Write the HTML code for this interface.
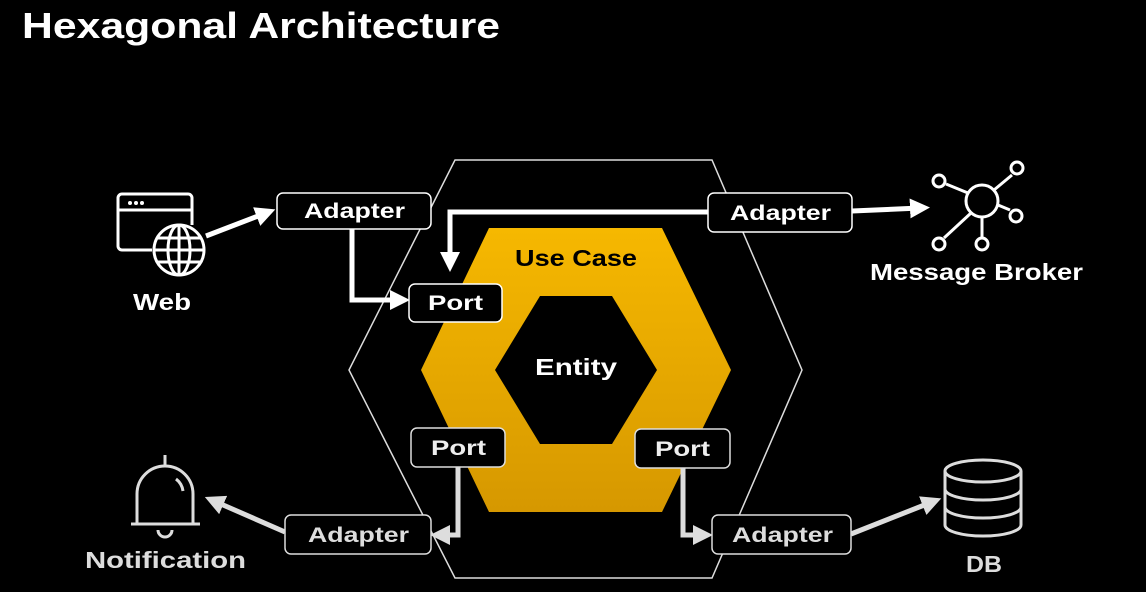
<!DOCTYPE html>
<html><head><meta charset="utf-8"><style>
html,body{margin:0;padding:0;background:#000;}
svg{display:block;}
text{font-family:"Liberation Sans",sans-serif;}
</style></head><body>
<svg width="1146" height="592" viewBox="0 0 1146 592" xmlns="http://www.w3.org/2000/svg">
<defs>
<linearGradient id="yg" x1="0" y1="0" x2="0" y2="1">
<stop offset="0" stop-color="#f6b800"/><stop offset="1" stop-color="#d69800"/>
</linearGradient>
<marker id="aw" markerWidth="4" markerHeight="4" refX="2" refY="2" orient="auto" markerUnits="strokeWidth"><path d="M0,0 L4,2 L0,4 Z" fill="#fff"/></marker>
<marker id="ag" markerWidth="4" markerHeight="4" refX="2" refY="2" orient="auto" markerUnits="strokeWidth"><path d="M0,0 L4,2 L0,4 Z" fill="#ddd"/></marker>
</defs>
<rect width="1146" height="592" fill="#000"/>
<text x="22" y="38" font-size="36" font-weight="bold" fill="#fff" textLength="478" lengthAdjust="spacingAndGlyphs">Hexagonal Architecture</text>

<polygon points="455,160 712,160 802,370 712,578 455,578 349,370" fill="none" stroke="#ddd" stroke-width="1.5"/>
<polygon points="489,228 662,228 731,370 662,512 489,512 421,370" fill="url(#yg)"/>
<polygon points="540,296 612,296 657,370 612,444 540,444 495,370" fill="#000"/>
<text x="515" y="266" font-size="23" font-weight="bold" fill="#000" textLength="122" lengthAdjust="spacingAndGlyphs">Use Case</text>
<text x="535" y="375" font-size="23" font-weight="bold" fill="#fff" textLength="82" lengthAdjust="spacingAndGlyphs">Entity</text>

<line x1="206" y1="236" x2="266" y2="213" stroke="#fff" stroke-width="5" marker-end="url(#aw)"/>
<polyline points="352,229 352,300 400,300" fill="none" stroke="#fff" stroke-width="5" marker-end="url(#aw)"/>
<polyline points="708,212 450,212 450,262" fill="none" stroke="#fff" stroke-width="5" marker-end="url(#aw)"/>
<line x1="852" y1="211" x2="920" y2="208" stroke="#fff" stroke-width="5" marker-end="url(#aw)"/>
<polyline points="458,467 458,535 440,535" fill="none" stroke="#ddd" stroke-width="5" marker-end="url(#ag)"/>
<line x1="285" y1="532" x2="214" y2="501" stroke="#ddd" stroke-width="5" marker-end="url(#ag)"/>
<polyline points="683,468 683,535 703,535" fill="none" stroke="#ddd" stroke-width="5" marker-end="url(#ag)"/>
<line x1="851" y1="534" x2="932" y2="502" stroke="#ddd" stroke-width="5" marker-end="url(#ag)"/>

<g font-size="21" font-weight="bold" lengthAdjust="spacingAndGlyphs">
<rect x="277" y="193" width="154" height="36" rx="6" fill="#000" stroke="#fff" stroke-width="1.5"/>
<text x="304" y="218" fill="#fff" textLength="101" lengthAdjust="spacingAndGlyphs">Adapter</text>
<rect x="409" y="284" width="93" height="38" rx="6" fill="#000" stroke="#fff" stroke-width="1.5"/>
<text x="428" y="310" fill="#fff" textLength="55" lengthAdjust="spacingAndGlyphs">Port</text>
<rect x="708" y="193" width="144" height="39" rx="6" fill="#000" stroke="#fff" stroke-width="1.5"/>
<text x="730" y="220" fill="#fff" textLength="101" lengthAdjust="spacingAndGlyphs">Adapter</text>
<rect x="411" y="428" width="94" height="39" rx="6" fill="#000" stroke="#ddd" stroke-width="1.5"/>
<text x="431" y="455" fill="#eee" textLength="55" lengthAdjust="spacingAndGlyphs">Port</text>
<rect x="635" y="429" width="95" height="39" rx="6" fill="#000" stroke="#ddd" stroke-width="1.5"/>
<text x="655" y="456" fill="#eee" textLength="55" lengthAdjust="spacingAndGlyphs">Port</text>
<rect x="285" y="515" width="146" height="39" rx="6" fill="#000" stroke="#ddd" stroke-width="1.5"/>
<text x="308" y="542" fill="#ddd" textLength="101" lengthAdjust="spacingAndGlyphs">Adapter</text>
<rect x="712" y="515" width="139" height="39" rx="6" fill="#000" stroke="#ddd" stroke-width="1.5"/>
<text x="732" y="542" fill="#ddd" textLength="101" lengthAdjust="spacingAndGlyphs">Adapter</text>
</g>

<g fill="none" stroke="#fff" stroke-width="3">
<path d="M152,250 H122 a4,4 0 0 1 -4,-4 V198 a4,4 0 0 1 4,-4 H188 a4,4 0 0 1 4,4 V225"/>
<line x1="118" y1="210" x2="192" y2="210"/>
<circle cx="179" cy="250" r="25" fill="#000"/>
<ellipse cx="179" cy="250" rx="11" ry="25"/>
<line x1="154" y1="250" x2="204" y2="250"/>
<line x1="158" y1="238" x2="200" y2="238"/>
<line x1="158" y1="262" x2="200" y2="262"/>
<line x1="179" y1="225" x2="179" y2="275"/>
</g>
<g fill="#fff"><circle cx="130" cy="203" r="2"/><circle cx="136" cy="203" r="2"/><circle cx="142" cy="203" r="2"/></g>
<text x="133" y="310" font-size="23" font-weight="bold" fill="#fff" textLength="58" lengthAdjust="spacingAndGlyphs">Web</text>

<g fill="none" stroke="#fff" stroke-width="3">
<circle cx="982" cy="201" r="16"/>
<line x1="968" y1="193" x2="946" y2="184"/><circle cx="939" cy="181" r="6"/>
<line x1="994" y1="190" x2="1012" y2="175"/><circle cx="1017" cy="168" r="6"/>
<line x1="998" y1="205" x2="1010" y2="210"/><circle cx="1016" cy="216" r="6"/>
<line x1="971" y1="213" x2="944" y2="238"/><circle cx="939" cy="244" r="6"/>
<line x1="982" y1="217" x2="982" y2="238"/><circle cx="982" cy="244" r="6"/>
</g>
<text x="870" y="280" font-size="23" font-weight="bold" fill="#fff" textLength="213" lengthAdjust="spacingAndGlyphs">Message Broker</text>

<g fill="none" stroke="#ddd" stroke-width="3">
<line x1="165" y1="455" x2="165" y2="466"/>
<path d="M137,523 V494 a28,28 0 0 1 56,0 V523"/>
<line x1="131" y1="524" x2="200" y2="524"/>
<path d="M158,530 a7,7 0 0 0 14,0"/>
<path d="M176,479 a18,18 0 0 1 7,12"/>
</g>
<text x="85" y="568" font-size="23" font-weight="bold" fill="#ddd" textLength="161" lengthAdjust="spacingAndGlyphs">Notification</text>

<g fill="none" stroke="#ddd" stroke-width="3">
<ellipse cx="983" cy="471" rx="38" ry="11"/>
<path d="M945,471 V525 a38,11 0 0 0 76,0 V471"/>
<path d="M945,489 a38,11 0 0 0 76,0"/>
<path d="M945,507 a38,11 0 0 0 76,0"/>
</g>
<text x="966" y="572" font-size="23" font-weight="bold" fill="#ddd" textLength="36" lengthAdjust="spacingAndGlyphs">DB</text>
</svg>
</body></html>
